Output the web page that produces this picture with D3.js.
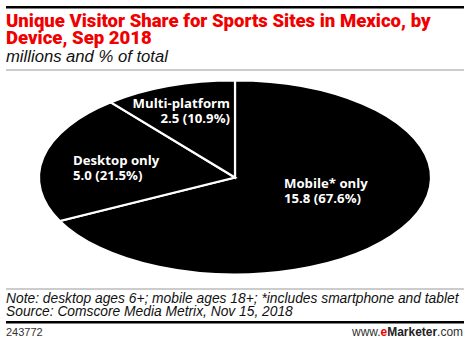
<!DOCTYPE html>
<html>
<head>
<meta charset="utf-8">
<script src="https://cdn.jsdelivr.net/npm/d3@7"></script>
<style>
  html, body { margin: 0; padding: 0; background: #fff; }
  svg { display: block; }
</style>
</head>
<body>
<svg id="chart" width="470" height="344"></svg>
<script>
// Unique visitor share for sports sites in Mexico, by device (Sep 2018)
const categories = ["Mobile* only", "Desktop only", "Multi-platform"];
const visitors = [15.8, 5.0, 2.5];          // millions
const shares = [67.6, 21.5, 10.9];          // % of total
const valueLabels = ["15.8 (67.6%)", "5.0 (21.5%)", "2.5 (10.9%)"];

const W = 470, H = 344;
const svg = d3.select("#chart");

const titleFont = "Roboto, 'Open Sans', sans-serif";
const bodyFont = "'Liberation Sans', Arial, sans-serif";
const labelFont = "'Open Sans', sans-serif";
const red = "#f00000";

// scale a text block's font size so that a given line spans the wanted width
function fitWidth(textSel, lineSel, width) {
  const fs = parseFloat(textSel.attr("font-size"));
  const w = lineSel.node().getComputedTextLength();
  textSel.attr("font-size", (fs * width / w).toFixed(2));
}

// header rules and titles
svg.append("rect").attr("x", 6).attr("y", 6).attr("width", 458).attr("height", 2.5).attr("fill", "#000");
const title = svg.append("text")
  .attr("font-family", titleFont).attr("font-weight", 900).attr("font-size", 16)
  .attr("fill", red);
const title1 = title.append("tspan").attr("x", 6).attr("y", 26.5).text("Unique Visitor Share for Sports Sites in Mexico, by");
title.append("tspan").attr("x", 6).attr("y", 44).text("Device, Sep 2018");
fitWidth(title, title1, 425);

const sub = svg.append("text").attr("x", 6).attr("y", 62)
  .attr("font-family", bodyFont).attr("font-style", "italic").attr("font-size", 16)
  .attr("fill", "#111").text("millions and % of total");
fitWidth(sub, sub, 162);
svg.append("rect").attr("x", 6).attr("y", 69.5).attr("width", 458).attr("height", 1).attr("fill", "#999");

// pie drawn on a unit circle, stretched into an ellipse
const cx = 235, cy = 177.5, rx = 196, ry = 97;
const pie = d3.pie().sort(null).value(d => d.share);
const data = categories.map((c, i) => ({ name: c, value: visitors[i], share: shares[i], label: valueLabels[i] }));
const arcs = pie(data);
const arc = d3.arc().innerRadius(0).outerRadius(1);

const pieG = svg.append("g").attr("transform", `translate(${cx},${cy}) scale(${rx},${ry})`);
pieG.selectAll("path").data(arcs).join("path")
  .attr("d", arc)
  .attr("fill", "#000")
  .attr("stroke", "#fff")
  .attr("stroke-width", 2.2)
  .attr("stroke-linejoin", "miter")
  .attr("vector-effect", "non-scaling-stroke");

// slice labels
const labelPos = [
  { x: 284, y: 188, anchor: "start" },
  { x: 73, y: 165, anchor: "start" },
  { x: 230, y: 108, anchor: "end" }
];
const labelSize = 13.2;
arcs.forEach((a, i) => {
  const p = labelPos[i];
  const t = svg.append("text")
    .attr("font-family", labelFont).attr("font-weight", 700).attr("font-size", labelSize)
    .attr("fill", "#fff").attr("text-anchor", p.anchor);
  t.append("tspan").attr("x", p.x).attr("y", p.y).text(a.data.name);
  t.append("tspan").attr("x", p.x).attr("y", p.y + 15).text(a.data.label);
});

// notes and footer
svg.append("rect").attr("x", 6).attr("y", 288.5).attr("width", 458).attr("height", 1).attr("fill", "#999");
const notes = svg.append("text")
  .attr("font-family", bodyFont).attr("font-style", "italic").attr("font-size", 13).attr("fill", "#111");
const note1 = notes.append("tspan").attr("x", 6).attr("y", 303).text("Note: desktop ages 6+; mobile ages 18+; *includes smartphone and tablet");
notes.append("tspan").attr("x", 6).attr("y", 316).text("Source: Comscore Media Metrix, Nov 15, 2018");
fitWidth(notes, note1, 453);
svg.append("rect").attr("x", 6).attr("y", 321).attr("width", 458).attr("height", 2.5).attr("fill", "#000");
svg.append("text").attr("x", 6).attr("y", 336)
  .attr("font-family", bodyFont).attr("font-size", 11).attr("fill", "#333").text("243772");
const brand = svg.append("text").attr("x", 463).attr("y", 336).attr("text-anchor", "end")
  .attr("font-family", bodyFont).attr("font-size", 12).attr("fill", "#333");
brand.append("tspan").text("www.");
brand.append("tspan").attr("fill", red).attr("font-weight", 700).text("e");
brand.append("tspan").attr("font-weight", 700).attr("fill", "#222").text("Marketer");
brand.append("tspan").text(".com");
fitWidth(brand, brand, 111);
</script>
</body>
</html>
